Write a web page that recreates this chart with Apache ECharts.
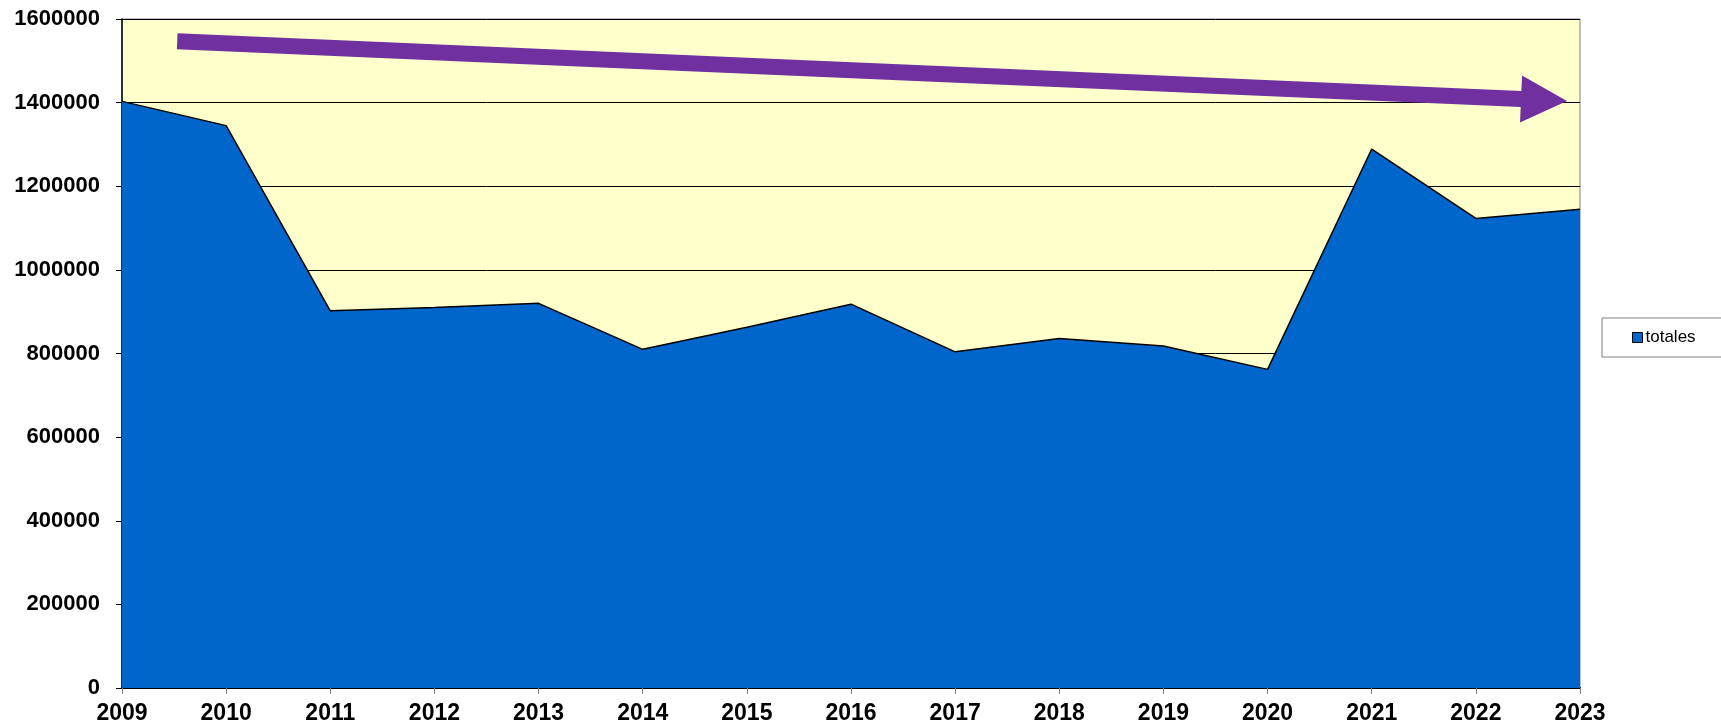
<!DOCTYPE html>
<html>
<head>
<meta charset="utf-8">
<script src="https://cdn.jsdelivr.net/npm/echarts@6/dist/echarts.min.js"></script>
<style>
  html, body { margin: 0; padding: 0; background: #fff; }
  #chart { width: 1721px; height: 726px; }
</style>
</head>
<body>
<div id="chart"></div>
<script>
var years = ['2009', '2010', '2011', '2012', '2013', '2014', '2015', '2016',
  '2017', '2018', '2019', '2020', '2021', '2022', '2023']
var totales = [1403000, 1345000, 902000, 910000, 920000, 810000, 863000, 918000,
  804000, 836000, 818000, 762000, 1289000, 1123000, 1145000]
var yTicks = [0, 200000, 400000, 600000, 800000, 1000000, 1200000, 1400000, 1600000]
// trend arrow, in data space: [category index, value]
var arrowFrom = [0.53, 1547000]
var arrowTo = [13.875, 1404000]

var font = '"Liberation Sans", Arial, sans-serif'
var chart = echarts.init(document.getElementById('chart'))

chart.setOption({
  animation: false,
  grid: {
    left: 122, right: 141, top: 19, bottom: 38,
    show: true,
    backgroundColor: '#FFFFCC',
    borderColor: '#808080',
    borderWidth: 1
  },
  legend: {
    data: [{ name: 'totales', icon: 'rect' }],
    left: 1602, top: 318,
    orient: 'vertical',
    itemWidth: 10, itemHeight: 10, itemGap: 0,
    padding: [11, 26, 11, 30],
    borderColor: '#808080', borderWidth: 1,
    backgroundColor: '#fff',
    itemStyle: { borderColor: '#000', borderWidth: 1 },
    textStyle: { fontFamily: font, fontSize: 17, color: '#000', padding: [0, 0, 0, -2] }
  },
  xAxis: {
    type: 'category',
    data: years,
    boundaryGap: false,
    axisLine: { lineStyle: { color: '#000', width: 2 } },
    axisTick: { show: true, length: 6, lineStyle: { color: '#808080' } },
    axisLabel: { fontFamily: font, fontSize: 23, fontWeight: 'bold', color: '#000', margin: 14 },
    splitLine: { show: false }
  },
  yAxis: {
    type: 'value',
    min: yTicks[0], max: yTicks[yTicks.length - 1], interval: 200000,
    axisLine: { show: true, lineStyle: { color: '#000', width: 1.5 } },
    axisTick: { show: true, length: 6, lineStyle: { color: '#000' } },
    axisLabel: {
      fontFamily: font, fontSize: 22, fontWeight: 'bold', color: '#000', margin: 22,
      formatter: function (v) { return String(v) }
    },
    splitLine: { show: true, lineStyle: { color: '#000', width: 1 } }
  },
  series: [{
    name: 'totales',
    type: 'line',
    data: totales,
    symbol: 'none',
    itemStyle: { color: '#0066CC' },
    lineStyle: { color: '#000', width: 1.5 },
    areaStyle: { color: '#0066CC', opacity: 1 }
  }]
})

// build the trend arrow from data positions
function toPx(p) {
  var a = chart.convertToPixel({ gridIndex: 0 }, [0, p[1]])
  var b = chart.convertToPixel({ gridIndex: 0 }, [years.length - 1, p[1]])
  return [a[0] + (b[0] - a[0]) * p[0] / (years.length - 1), a[1]]
}
var s = toPx(arrowFrom), t = toPx(arrowTo)
var dx = t[0] - s[0], dy = t[1] - s[1]
var len = Math.sqrt(dx * dx + dy * dy)
var ux = dx / len, uy = dy / len, nx = -uy, ny = ux
var headLen = 46, shaftW = 8, headW = 23.5
var bx = t[0] - ux * headLen, by = t[1] - uy * headLen
chart.setOption({
  graphic: [{
    type: 'polygon',
    z: 100,
    shape: {
      points: [
        [s[0] + nx * shaftW, s[1] + ny * shaftW],
        [bx + nx * shaftW, by + ny * shaftW],
        [bx + nx * headW, by + ny * headW],
        [t[0], t[1]],
        [bx - nx * headW, by - ny * headW],
        [bx - nx * shaftW, by - ny * shaftW],
        [s[0] - nx * shaftW, s[1] - ny * shaftW]
      ]
    },
    style: { fill: '#7030A0' }
  }]
})
</script>
</body>
</html>
